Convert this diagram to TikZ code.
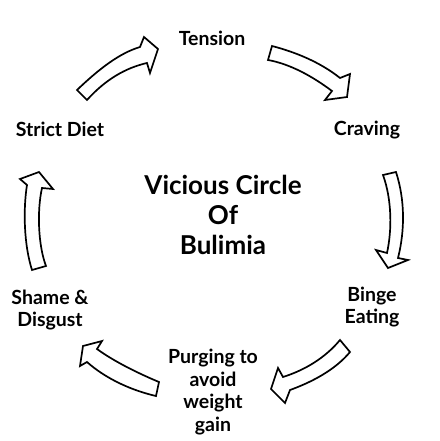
\documentclass[tikz,border=0pt]{standalone}
\usepackage{fontspec}
\setmainfont{Lato}
\begin{document}
\begin{tikzpicture}[x=1pt,y=-1pt,
  lbl/.style={font=\bfseries\fontsize{19.5}{22.5}\selectfont, align=center, inner sep=0pt},
  title/.style={font=\bfseries\fontsize{26}{30}\selectfont, align=center, inner sep=0pt},
  blockarrow/.style={draw=black, fill=white, line width=1.7pt, line join=miter}]
\useasboundingbox (0,0) rectangle (439,441);
\fill[white] (0,0) rectangle (439,441);

\node[lbl] (tension) at (212,38) {Tension};
\node[lbl] (strict) at (60,129) {Strict Diet};
\node[lbl] (craving) at (367,130) {Craving};
\node[title] (title) at (223,215) {Vicious Circle\\Of\\Bulimia};
\node[lbl] (shame) at (50,310) {Shame \&\\Disgust};
\node[lbl] (binge) at (372,307) {Binge\\Eating};
\node[lbl] (purging) at (213,392) {Purging to\\avoid\\weight\\gain};

% arrow 1: Strict Diet -> Tension
\draw[blockarrow] (87,100) -- (77,90) .. controls (100,68) and (120,53) .. (140,47)
  -- (144,37) -- (158,49) -- (150,73) -- (147,63) .. controls (125,68) and (105,80) .. (87,100) -- cycle;
% arrow 2: Tension -> Craving
\draw[blockarrow] (268,60) -- (272,46) .. controls (295,52) and (320,62) .. (340,78)
  -- (350,74) -- (347,97) -- (325,100) -- (332,91) .. controls (312,76) and (290,64) .. (268,60) -- cycle;
% arrow 3: Craving -> Binge
\draw[blockarrow] (383,175) -- (396,172) .. controls (405,200) and (405,230) .. (398,258)
  -- (408,260) -- (388,268) -- (376,250) -- (387,253) .. controls (392,230) and (392,200) .. (383,175) -- cycle;
% arrow 4: Binge -> Purging
\draw[blockarrow] (350,352) -- (340,340) .. controls (325,358) and (305,370) .. (283,377)
  -- (278,368) -- (271,389) -- (285,403) -- (290,390) .. controls (312,382) and (335,370) .. (350,352) -- cycle;
% arrow 5: Purging -> Shame
\draw[blockarrow] (156,396) -- (159,382) .. controls (135,372) and (112,360) .. (97,349)
  -- (102,341) -- (83,346) -- (80,366) -- (87,362) .. controls (105,378) and (130,390) .. (156,396) -- cycle;
% arrow 6: Shame -> Strict Diet
\draw[blockarrow] (46,266) -- (32,270) .. controls (24,245) and (23,210) .. (27,185)
  -- (20,179) -- (39,172) -- (53,189) -- (42,188) .. controls (37,210) and (38,245) .. (46,266) -- cycle;
\end{tikzpicture}
\end{document}
